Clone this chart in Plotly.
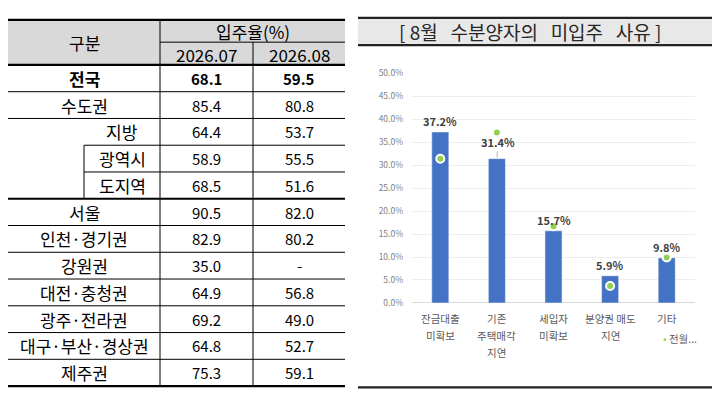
import plotly.graph_objects as go

# 입주율 표 데이터
regions = ["전국", "수도권", "지방", "광역시", "도지역", "서울", "인천·경기권",
           "강원권", "대전·충청권", "광주·전라권", "대구·부산·경상권", "제주권"]
rate_jul = [68.1, 85.4, 64.4, 58.9, 68.5, 90.5, 82.9, 35.0, 64.9, 69.2, 64.8, 75.3]
rate_aug = [59.5, 80.8, 53.7, 55.5, 51.6, 82.0, 80.2, None, 56.8, 49.0, 52.7, 59.1]
months = ["2026.07", "2026.08"]

# 미입주 사유 데이터
reasons = ["잔금대출<br>미확보", "기존<br>주택매각<br>지연", "세입자<br>미확보", "분양권 매도<br>지연", "기타"]
share_aug = [0.372, 0.314, 0.157, 0.059, 0.098]
share_prev = [0.314, 0.371, 0.167, 0.037, 0.099]

# 페이지 body 기본 여백(8px)만큼 그림을 줄이고 좌표를 보정
PAD = 8
W, H = 720 - PAD, 403 - PAD
FONT = "Noto Sans CJK KR"


def px(x):
    return (x - PAD) / W


def py(y):
    return 1 - (y - PAD) / H


shapes = []
annotations = []


def hline(x0, x1, y, width=1.0, color="black"):
    shapes.append(dict(type="line", xref="paper", yref="paper", x0=px(x0), x1=px(x1),
                       y0=py(y), y1=py(y), line=dict(color=color, width=width)))


def vline(x, y0, y1, width=1.0):
    shapes.append(dict(type="line", xref="paper", yref="paper", x0=px(x), x1=px(x),
                       y0=py(y0), y1=py(y1), line=dict(color="black", width=width)))


def label(x, y, text, size, bold=False, color="black", xanchor="center"):
    annotations.append(dict(xref="paper", yref="paper", x=px(x), y=py(y), text=f"<b>{text}</b>" if bold else text,
                            showarrow=False, xanchor=xanchor, yanchor="middle",
                            font=dict(family=FONT, size=size, color=color)))


# ---- 왼쪽 표 ----
L, C1, C2, R = 8, 160, 253, 345
SUB = 84
top, hmid, hbot = 13, 36, 59.5
pitch = 27.6

shapes.append(dict(type="rect", xref="paper", yref="paper", x0=px(L), x1=px(R), y0=py(hbot), y1=py(top),
                   fillcolor="#d9d9d9", line=dict(width=0), layer="below"))
hline(L, R, top, 2.2)
hline(C1, R, hmid, 1)
hline(L, R, hbot, 2.2)
label((L + C1) / 2, (top + hbot) / 2, "구분", 17)
label((C1 + R) / 2, (top + hmid) / 2 + 1, "입주율(%)", 17)
label((C1 + C2) / 2, (hmid + hbot) / 2 + 1, months[0], 17)
label((C2 + R) / 2, (hmid + hbot) / 2 + 1, months[1], 17)

for i, name in enumerate(regions):
    y0 = hbot + pitch * i
    yc = y0 + pitch / 2
    indent = i in (2, 3, 4)
    xc = (SUB + C1) / 2 if indent else (L + C1) / 2
    bold = i == 0
    label(xc, yc, name, 17, bold=bold)
    for xcol, vals in (((C1 + C2) / 2, rate_jul), ((C2 + R) / 2, rate_aug)):
        v = vals[i]
        label(xcol, yc, "-" if v is None else f"{v:.1f}", 15, bold=bold)
    yb = y0 + pitch
    if i == len(regions) - 1 or i == 4:
        hline(L, R, yb, 2.2)
    elif i in (2, 3):
        hline(SUB, R, yb, 1)
    else:
        hline(L, R, yb, 1)

table_bottom = hbot + pitch * len(regions)
vline(C1, top, table_bottom)
vline(C2, hmid, table_bottom)
vline(SUB, hbot + pitch * 3, hbot + pitch * 5)

# ---- 오른쪽 차트 ----
shapes.append(dict(type="rect", xref="paper", yref="paper", x0=px(358), x1=px(713), y0=py(39), y1=py(11),
                   fillcolor="#e8e8e8", line=dict(width=0), layer="below"))
hline(358, 713, 11, 2.2, "#222222")
hline(358, 713, 39, 2.2, "#222222")
hline(358, 713, 392, 2.2, "#222222")
gap = "\u00a0" * 3
label(530.5, 25, f"[\u00a08월{gap}수분양자의{gap}미입주{gap}사유\u00a0]", 19, color="#262626")

fig = go.Figure()
fig.add_trace(go.Bar(x=reasons, y=share_aug, width=0.3, marker=dict(color="#4472C4"),
                     showlegend=False, hoverinfo="skip"))
fig.add_trace(go.Scatter(x=reasons, y=share_prev, mode="markers", name="전월...", showlegend=False,
                         marker=dict(color="#92D050", size=8, line=dict(color="white", width=2))))

# 데이터 레이블
for i, (r, v) in enumerate(zip(reasons, share_aug)):
    if i == 1:
        annotations.append(dict(x=r, y=v, xref="x", yref="y", text=f"<b>{v * 100:.1f}%</b>", showarrow=True,
                                arrowhead=0, arrowwidth=0.8, arrowcolor="#a6a6a6", ax=1, ay=-17, standoff=1,
                                font=dict(family=FONT, size=11, color="#404040")))
    else:
        annotations.append(dict(x=r, y=v, xref="x", yref="y", text=f"<b>{v * 100:.1f}%</b>", showarrow=False,
                                yanchor="bottom", yshift=1, font=dict(family=FONT, size=11, color="#404040")))

# x축 범주 레이블 (줄 간격을 원본처럼 넓게)
for r in reasons:
    for k, line_txt in enumerate(r.split("<br>")):
        annotations.append(dict(x=r, xref="x", yref="paper", y=py(321 + 17.5 * k), text=line_txt,
                                showarrow=False, yanchor="middle",
                                font=dict(family=FONT, size=10.5, color="#595959")))

# 범례 (전월)
annotations.append(dict(xref="paper", yref="paper", x=px(661), y=py(342), xanchor="left", yanchor="middle",
                        showarrow=False, text="<span style='color:#92D050'>•</span> 전월...",
                        font=dict(family=FONT, size=10.5, color="#595959")))

fig.update_layout(
    width=W, height=H,
    margin=dict(l=0, r=0, t=0, b=0),
    paper_bgcolor="white", plot_bgcolor="white",
    font=dict(family=FONT),
    showlegend=False,
    xaxis=dict(domain=[px(412), px(695)], showticklabels=False, showgrid=False, zeroline=False,
               showline=False, fixedrange=True),
    yaxis=dict(domain=[py(305), py(68)], range=[0, 0.5], dtick=0.05, tickformat=".1%",
               showgrid=True, gridcolor="#eeeeee", gridwidth=1, zeroline=True, zerolinecolor="#d9d9d9",
               zerolinewidth=1, showline=False, ticks="", ticklabelstandoff=8,
               tickfont=dict(family=FONT, size=8.5, color="#7f7f7f")),
    shapes=shapes,
    annotations=annotations,
)

fig.write_html("out.html")
